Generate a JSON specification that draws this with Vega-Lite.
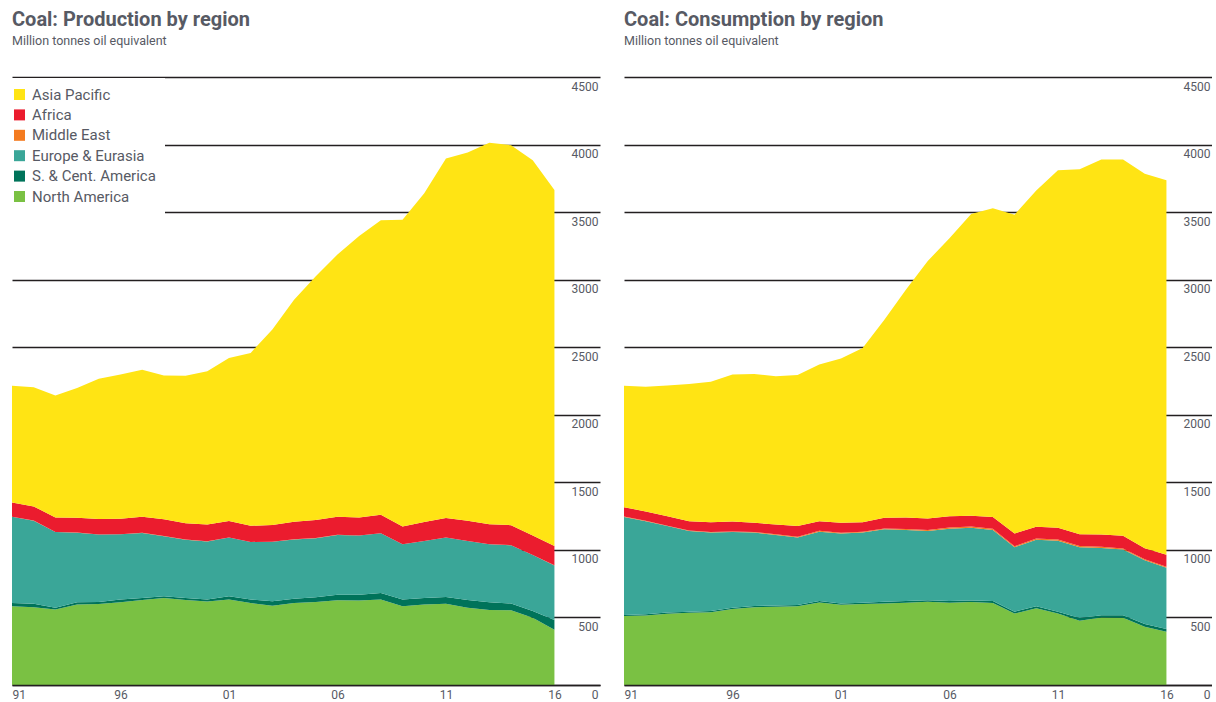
{
  "$schema": "https://vega.github.io/schema/vega-lite/v6.json",
  "padding": {"left": 3, "top": 9, "right": 0, "bottom": 0},
  "background": "white",
  "config": {
    "view": {"stroke": null},
    "font": "Roboto",
    "title": {"anchor": "start", "frame": "group", "font": "Roboto", "fontSize": 20, "fontWeight": "bold", "color": "#575a64", "subtitleFont": "Roboto", "subtitleFontSize": 12.5, "subtitleColor": "#575a64", "subtitlePadding": 5, "offset": 30}
  },
  "datasets": {
    "prod": [
      {"year":1991,"region":"North America","value":582},{"year":1991,"region":"S. & Cent. America","value":24},{"year":1991,"region":"Europe & Eurasia","value":639},{"year":1991,"region":"Middle East","value":1},{"year":1991,"region":"Africa","value":105},{"year":1991,"region":"Asia Pacific","value":864},
      {"year":1992,"region":"North America","value":575},{"year":1992,"region":"S. & Cent. America","value":26},{"year":1992,"region":"Europe & Eurasia","value":615},{"year":1992,"region":"Middle East","value":1},{"year":1992,"region":"Africa","value":105},{"year":1992,"region":"Asia Pacific","value":882},
      {"year":1993,"region":"North America","value":558},{"year":1993,"region":"S. & Cent. America","value":14},{"year":1993,"region":"Europe & Eurasia","value":560},{"year":1993,"region":"Middle East","value":1},{"year":1993,"region":"Africa","value":107},{"year":1993,"region":"Asia Pacific","value":902},
      {"year":1994,"region":"North America","value":596},{"year":1994,"region":"S. & Cent. America","value":17},{"year":1994,"region":"Europe & Eurasia","value":514},{"year":1994,"region":"Middle East","value":1},{"year":1994,"region":"Africa","value":110},{"year":1994,"region":"Asia Pacific","value":961},
      {"year":1995,"region":"North America","value":599},{"year":1995,"region":"S. & Cent. America","value":16},{"year":1995,"region":"Europe & Eurasia","value":498},{"year":1995,"region":"Middle East","value":1},{"year":1995,"region":"Africa","value":114},{"year":1995,"region":"Asia Pacific","value":1038},
      {"year":1996,"region":"North America","value":613},{"year":1996,"region":"S. & Cent. America","value":19},{"year":1996,"region":"Europe & Eurasia","value":483},{"year":1996,"region":"Middle East","value":1},{"year":1996,"region":"Africa","value":115},{"year":1996,"region":"Asia Pacific","value":1067},
      {"year":1997,"region":"North America","value":630},{"year":1997,"region":"S. & Cent. America","value":14},{"year":1997,"region":"Europe & Eurasia","value":481},{"year":1997,"region":"Middle East","value":1},{"year":1997,"region":"Africa","value":119},{"year":1997,"region":"Asia Pacific","value":1088},
      {"year":1998,"region":"North America","value":644},{"year":1998,"region":"S. & Cent. America","value":12},{"year":1998,"region":"Europe & Eurasia","value":445},{"year":1998,"region":"Middle East","value":1},{"year":1998,"region":"Africa","value":124},{"year":1998,"region":"Asia Pacific","value":1065},
      {"year":1999,"region":"North America","value":630},{"year":1999,"region":"S. & Cent. America","value":14},{"year":1999,"region":"Europe & Eurasia","value":431},{"year":1999,"region":"Middle East","value":1},{"year":1999,"region":"Africa","value":121},{"year":1999,"region":"Asia Pacific","value":1091},
      {"year":2000,"region":"North America","value":618},{"year":2000,"region":"S. & Cent. America","value":14},{"year":2000,"region":"Europe & Eurasia","value":431},{"year":2000,"region":"Middle East","value":1},{"year":2000,"region":"Africa","value":124},{"year":2000,"region":"Asia Pacific","value":1135},
      {"year":2001,"region":"North America","value":632},{"year":2001,"region":"S. & Cent. America","value":24},{"year":2001,"region":"Europe & Eurasia","value":435},{"year":2001,"region":"Middle East","value":1},{"year":2001,"region":"Africa","value":122},{"year":2001,"region":"Asia Pacific","value":1206},
      {"year":2002,"region":"North America","value":606},{"year":2002,"region":"S. & Cent. America","value":26},{"year":2002,"region":"Europe & Eurasia","value":426},{"year":2002,"region":"Middle East","value":1},{"year":2002,"region":"Africa","value":119},{"year":2002,"region":"Asia Pacific","value":1280},
      {"year":2003,"region":"North America","value":587},{"year":2003,"region":"S. & Cent. America","value":33},{"year":2003,"region":"Europe & Eurasia","value":440},{"year":2003,"region":"Middle East","value":1},{"year":2003,"region":"Africa","value":124},{"year":2003,"region":"Asia Pacific","value":1447},
      {"year":2004,"region":"North America","value":606},{"year":2004,"region":"S. & Cent. America","value":33},{"year":2004,"region":"Europe & Eurasia","value":438},{"year":2004,"region":"Middle East","value":1},{"year":2004,"region":"Africa","value":131},{"year":2004,"region":"Asia Pacific","value":1642},
      {"year":2005,"region":"North America","value":615},{"year":2005,"region":"S. & Cent. America","value":34},{"year":2005,"region":"Europe & Eurasia","value":438},{"year":2005,"region":"Middle East","value":1},{"year":2005,"region":"Africa","value":133},{"year":2005,"region":"Asia Pacific","value":1804},
      {"year":2006,"region":"North America","value":627},{"year":2006,"region":"S. & Cent. America","value":41},{"year":2006,"region":"Europe & Eurasia","value":443},{"year":2006,"region":"Middle East","value":1},{"year":2006,"region":"Africa","value":133},{"year":2006,"region":"Asia Pacific","value":1942},
      {"year":2007,"region":"North America","value":625},{"year":2007,"region":"S. & Cent. America","value":43},{"year":2007,"region":"Europe & Eurasia","value":438},{"year":2007,"region":"Middle East","value":1},{"year":2007,"region":"Africa","value":133},{"year":2007,"region":"Asia Pacific","value":2084},
      {"year":2008,"region":"North America","value":632},{"year":2008,"region":"S. & Cent. America","value":48},{"year":2008,"region":"Europe & Eurasia","value":443},{"year":2008,"region":"Middle East","value":1},{"year":2008,"region":"Africa","value":136},{"year":2008,"region":"Asia Pacific","value":2180},
      {"year":2009,"region":"North America","value":582},{"year":2009,"region":"S. & Cent. America","value":50},{"year":2009,"region":"Europe & Eurasia","value":409},{"year":2009,"region":"Middle East","value":1},{"year":2009,"region":"Africa","value":131},{"year":2009,"region":"Asia Pacific","value":2270},
      {"year":2010,"region":"North America","value":596},{"year":2010,"region":"S. & Cent. America","value":48},{"year":2010,"region":"Europe & Eurasia","value":421},{"year":2010,"region":"Middle East","value":1},{"year":2010,"region":"Africa","value":141},{"year":2010,"region":"Asia Pacific","value":2433},
      {"year":2011,"region":"North America","value":601},{"year":2011,"region":"S. & Cent. America","value":50},{"year":2011,"region":"Europe & Eurasia","value":440},{"year":2011,"region":"Middle East","value":1},{"year":2011,"region":"Africa","value":144},{"year":2011,"region":"Asia Pacific","value":2660},
      {"year":2012,"region":"North America","value":572},{"year":2012,"region":"S. & Cent. America","value":58},{"year":2012,"region":"Europe & Eurasia","value":435},{"year":2012,"region":"Middle East","value":1},{"year":2012,"region":"Africa","value":150},{"year":2012,"region":"Asia Pacific","value":2725},
      {"year":2013,"region":"North America","value":555},{"year":2013,"region":"S. & Cent. America","value":58},{"year":2013,"region":"Europe & Eurasia","value":428},{"year":2013,"region":"Middle East","value":1},{"year":2013,"region":"Africa","value":148},{"year":2013,"region":"Asia Pacific","value":2823},
      {"year":2014,"region":"North America","value":553},{"year":2014,"region":"S. & Cent. America","value":50},{"year":2014,"region":"Europe & Eurasia","value":431},{"year":2014,"region":"Middle East","value":1},{"year":2014,"region":"Africa","value":148},{"year":2014,"region":"Asia Pacific","value":2812},
      {"year":2015,"region":"North America","value":498},{"year":2015,"region":"S. & Cent. America","value":50},{"year":2015,"region":"Europe & Eurasia","value":414},{"year":2015,"region":"Middle East","value":1},{"year":2015,"region":"Africa","value":143},{"year":2015,"region":"Asia Pacific","value":2777},
      {"year":2016,"region":"North America","value":409},{"year":2016,"region":"S. & Cent. America","value":72},{"year":2016,"region":"Europe & Eurasia","value":404},{"year":2016,"region":"Middle East","value":1},{"year":2016,"region":"Africa","value":143},{"year":2016,"region":"Asia Pacific","value":2635}
    ],
    "cons": [
      {"year":1991,"region":"North America","value":510},{"year":1991,"region":"S. & Cent. America","value":9},{"year":1991,"region":"Europe & Eurasia","value":725},{"year":1991,"region":"Middle East","value":3},{"year":1991,"region":"Africa","value":69},{"year":1991,"region":"Asia Pacific","value":898},
      {"year":1992,"region":"North America","value":514},{"year":1992,"region":"S. & Cent. America","value":10},{"year":1992,"region":"Europe & Eurasia","value":688},{"year":1992,"region":"Middle East","value":3},{"year":1992,"region":"Africa","value":70},{"year":1992,"region":"Asia Pacific","value":922},
      {"year":1993,"region":"North America","value":527},{"year":1993,"region":"S. & Cent. America","value":9},{"year":1993,"region":"Europe & Eurasia","value":640},{"year":1993,"region":"Middle East","value":3},{"year":1993,"region":"Africa","value":70},{"year":1993,"region":"Asia Pacific","value":968},
      {"year":1994,"region":"North America","value":534},{"year":1994,"region":"S. & Cent. America","value":9},{"year":1994,"region":"Europe & Eurasia","value":597},{"year":1994,"region":"Middle East","value":4},{"year":1994,"region":"Africa","value":68},{"year":1994,"region":"Asia Pacific","value":1015},
      {"year":1995,"region":"North America","value":539},{"year":1995,"region":"S. & Cent. America","value":9},{"year":1995,"region":"Europe & Eurasia","value":580},{"year":1995,"region":"Middle East","value":4},{"year":1995,"region":"Africa","value":73},{"year":1995,"region":"Asia Pacific","value":1039},
      {"year":1996,"region":"North America","value":563},{"year":1996,"region":"S. & Cent. America","value":9},{"year":1996,"region":"Europe & Eurasia","value":561},{"year":1996,"region":"Middle East","value":4},{"year":1996,"region":"Africa","value":73},{"year":1996,"region":"Asia Pacific","value":1089},
      {"year":1997,"region":"North America","value":575},{"year":1997,"region":"S. & Cent. America","value":10},{"year":1997,"region":"Europe & Eurasia","value":543},{"year":1997,"region":"Middle East","value":5},{"year":1997,"region":"Africa","value":67},{"year":1997,"region":"Asia Pacific","value":1101},
      {"year":1998,"region":"North America","value":580},{"year":1998,"region":"S. & Cent. America","value":9},{"year":1998,"region":"Europe & Eurasia","value":522},{"year":1998,"region":"Middle East","value":5},{"year":1998,"region":"Africa","value":72},{"year":1998,"region":"Asia Pacific","value":1098},
      {"year":1999,"region":"North America","value":582},{"year":1999,"region":"S. & Cent. America","value":10},{"year":1999,"region":"Europe & Eurasia","value":500},{"year":1999,"region":"Middle East","value":5},{"year":1999,"region":"Africa","value":79},{"year":1999,"region":"Asia Pacific","value":1118},
      {"year":2000,"region":"North America","value":611},{"year":2000,"region":"S. & Cent. America","value":10},{"year":2000,"region":"Europe & Eurasia","value":514},{"year":2000,"region":"Middle East","value":6},{"year":2000,"region":"Africa","value":71},{"year":2000,"region":"Asia Pacific","value":1161},
      {"year":2001,"region":"North America","value":594},{"year":2001,"region":"S. & Cent. America","value":10},{"year":2001,"region":"Europe & Eurasia","value":517},{"year":2001,"region":"Middle East","value":6},{"year":2001,"region":"Africa","value":73},{"year":2001,"region":"Asia Pacific","value":1216},
      {"year":2002,"region":"North America","value":599},{"year":2002,"region":"S. & Cent. America","value":10},{"year":2002,"region":"Europe & Eurasia","value":519},{"year":2002,"region":"Middle East","value":7},{"year":2002,"region":"Africa","value":70},{"year":2002,"region":"Asia Pacific","value":1290},
      {"year":2003,"region":"North America","value":604},{"year":2003,"region":"S. & Cent. America","value":12},{"year":2003,"region":"Europe & Eurasia","value":536},{"year":2003,"region":"Middle East","value":7},{"year":2003,"region":"Africa","value":78},{"year":2003,"region":"Asia Pacific","value":1467},
      {"year":2004,"region":"North America","value":609},{"year":2004,"region":"S. & Cent. America","value":12},{"year":2004,"region":"Europe & Eurasia","value":526},{"year":2004,"region":"Middle East","value":8},{"year":2004,"region":"Africa","value":84},{"year":2004,"region":"Asia Pacific","value":1688},
      {"year":2005,"region":"North America","value":616},{"year":2005,"region":"S. & Cent. America","value":12},{"year":2005,"region":"Europe & Eurasia","value":512},{"year":2005,"region":"Middle East","value":8},{"year":2005,"region":"Africa","value":84},{"year":2005,"region":"Asia Pacific","value":1906},
      {"year":2006,"region":"North America","value":609},{"year":2006,"region":"S. & Cent. America","value":12},{"year":2006,"region":"Europe & Eurasia","value":536},{"year":2006,"region":"Middle East","value":8},{"year":2006,"region":"Africa","value":84},{"year":2006,"region":"Asia Pacific","value":2058},
      {"year":2007,"region":"North America","value":614},{"year":2007,"region":"S. & Cent. America","value":12},{"year":2007,"region":"Europe & Eurasia","value":538},{"year":2007,"region":"Middle East","value":9},{"year":2007,"region":"Africa","value":80},{"year":2007,"region":"Asia Pacific","value":2233},
      {"year":2008,"region":"North America","value":606},{"year":2008,"region":"S. & Cent. America","value":15},{"year":2008,"region":"Europe & Eurasia","value":526},{"year":2008,"region":"Middle East","value":9},{"year":2008,"region":"Africa","value":88},{"year":2008,"region":"Asia Pacific","value":2284},
      {"year":2009,"region":"North America","value":529},{"year":2009,"region":"S. & Cent. America","value":14},{"year":2009,"region":"Europe & Eurasia","value":476},{"year":2009,"region":"Middle East","value":8},{"year":2009,"region":"Africa","value":94},{"year":2009,"region":"Asia Pacific","value":2360},
      {"year":2010,"region":"North America","value":568},{"year":2010,"region":"S. & Cent. America","value":14},{"year":2010,"region":"Europe & Eurasia","value":493},{"year":2010,"region":"Middle East","value":9},{"year":2010,"region":"Africa","value":87},{"year":2010,"region":"Asia Pacific","value":2489},
      {"year":2011,"region":"North America","value":529},{"year":2011,"region":"S. & Cent. America","value":14},{"year":2011,"region":"Europe & Eurasia","value":525},{"year":2011,"region":"Middle East","value":9},{"year":2011,"region":"Africa","value":87},{"year":2011,"region":"Asia Pacific","value":2645},
      {"year":2012,"region":"North America","value":476},{"year":2012,"region":"S. & Cent. America","value":19},{"year":2012,"region":"Europe & Eurasia","value":524},{"year":2012,"region":"Middle East","value":10},{"year":2012,"region":"Africa","value":87},{"year":2012,"region":"Asia Pacific","value":2701},
      {"year":2013,"region":"North America","value":500},{"year":2013,"region":"S. & Cent. America","value":17},{"year":2013,"region":"Europe & Eurasia","value":497},{"year":2013,"region":"Middle East","value":10},{"year":2013,"region":"Africa","value":89},{"year":2013,"region":"Asia Pacific","value":2776},
      {"year":2014,"region":"North America","value":498},{"year":2014,"region":"S. & Cent. America","value":19},{"year":2014,"region":"Europe & Eurasia","value":485},{"year":2014,"region":"Middle East","value":9},{"year":2014,"region":"Africa","value":93},{"year":2014,"region":"Asia Pacific","value":2785},
      {"year":2015,"region":"North America","value":432},{"year":2015,"region":"S. & Cent. America","value":20},{"year":2015,"region":"Europe & Eurasia","value":471},{"year":2015,"region":"Middle East","value":8},{"year":2015,"region":"Africa","value":81},{"year":2015,"region":"Asia Pacific","value":2772},
      {"year":2016,"region":"North America","value":394},{"year":2016,"region":"S. & Cent. America","value":21},{"year":2016,"region":"Europe & Eurasia","value":452},{"year":2016,"region":"Middle East","value":8},{"year":2016,"region":"Africa","value":89},{"year":2016,"region":"Asia Pacific","value":2771}
    ]
  },
  "spacing": 24,
  "resolve": {"legend": {"color": "independent"}},
  "hconcat": [
    {
      "width": 588,
      "height": 608,
      "title": {"text": "Coal: Production by region", "subtitle": "Million tonnes oil equivalent"},
      "data": {"name": "prod"},
      "transform": [
        {"calculate": "indexof(['North America','S. & Cent. America','Europe & Eurasia','Middle East','Africa','Asia Pacific'], datum.region)", "as": "stackOrder"}
      ],
      "mark": {"type": "area", "interpolate": "linear"},
      "encoding": {
        "x": {"field": "year", "type": "quantitative", "scale": {"domain": [1991, 2018.1], "nice": false, "zero": false},
          "axis": {"values": [1991, 1996, 2001, 2006, 2011, 2016], "format": "d", "labelExpr": "substring(datum.label, 2, 4)", "grid": false, "ticks": false, "tickSize": 0, "domain": true, "domainColor": "#231f20", "domainWidth": 1.5, "labelPadding": 4, "labelFlush": true, "labelFontSize": 12, "labelFont": "Roboto", "labelColor": "#575a64", "title": null, "zindex": 1}},
        "y": {"field": "value", "type": "quantitative", "stack": "zero", "scale": {"domain": [0, 4500], "nice": false},
          "axis": {"orient": "right", "values": [0, 500, 1000, 1500, 2000, 2500, 3000, 3500, 4000, 4500], "format": "d", "grid": true, "gridColor": "#231f20", "gridWidth": 1.5, "domain": false, "ticks": false, "tickSize": 0, "labelAlign": "right", "labelBaseline": "top", "labelPadding": -2, "labelOffset": 4, "labelFontSize": 12, "labelFont": "Roboto", "labelColor": "#575a64", "labelOverlap": false, "title": null, "zindex": 0}},
        "color": {"field": "region", "type": "nominal",
          "scale": {"domain": ["Asia Pacific", "Africa", "Middle East", "Europe & Eurasia", "S. & Cent. America", "North America"], "range": ["#ffe414", "#eb1c2e", "#f47b20", "#3aa698", "#00735a", "#7ac143"]},
          "legend": {"orient": "none", "legendX": -9, "legendY": 1, "title": null, "symbolType": "square", "symbolSize": 121, "symbolStrokeWidth": 0, "symbolOpacity": 1, "labelFontSize": 15, "labelFont": "Roboto", "labelColor": "#575a64", "labelOffset": 5, "rowPadding": 4.4, "fillColor": "white", "padding": 9}},
        "order": {"field": "stackOrder", "type": "quantitative", "sort": "ascending"}
      }
    },
    {
      "width": 588,
      "height": 608,
      "title": {"text": "Coal: Consumption by region", "subtitle": "Million tonnes oil equivalent"},
      "data": {"name": "cons"},
      "transform": [
        {"calculate": "indexof(['North America','S. & Cent. America','Europe & Eurasia','Middle East','Africa','Asia Pacific'], datum.region)", "as": "stackOrder"}
      ],
      "mark": {"type": "area", "interpolate": "linear"},
      "encoding": {
        "x": {"field": "year", "type": "quantitative", "scale": {"domain": [1991, 2018.1], "nice": false, "zero": false},
          "axis": {"values": [1991, 1996, 2001, 2006, 2011, 2016], "format": "d", "labelExpr": "substring(datum.label, 2, 4)", "grid": false, "ticks": false, "tickSize": 0, "domain": true, "domainColor": "#231f20", "domainWidth": 1.5, "labelPadding": 4, "labelFlush": true, "labelFontSize": 12, "labelFont": "Roboto", "labelColor": "#575a64", "title": null, "zindex": 1}},
        "y": {"field": "value", "type": "quantitative", "stack": "zero", "scale": {"domain": [0, 4500], "nice": false},
          "axis": {"orient": "right", "values": [0, 500, 1000, 1500, 2000, 2500, 3000, 3500, 4000, 4500], "format": "d", "grid": true, "gridColor": "#231f20", "gridWidth": 1.5, "domain": false, "ticks": false, "tickSize": 0, "labelAlign": "right", "labelBaseline": "top", "labelPadding": -2, "labelOffset": 4, "labelFontSize": 12, "labelFont": "Roboto", "labelColor": "#575a64", "labelOverlap": false, "title": null, "zindex": 0}},
        "color": {"field": "region", "type": "nominal",
          "scale": {"domain": ["Asia Pacific", "Africa", "Middle East", "Europe & Eurasia", "S. & Cent. America", "North America"], "range": ["#ffe414", "#eb1c2e", "#f47b20", "#3aa698", "#00735a", "#7ac143"]},
          "legend": null},
        "order": {"field": "stackOrder", "type": "quantitative", "sort": "ascending"}
      }
    }
  ]
}
